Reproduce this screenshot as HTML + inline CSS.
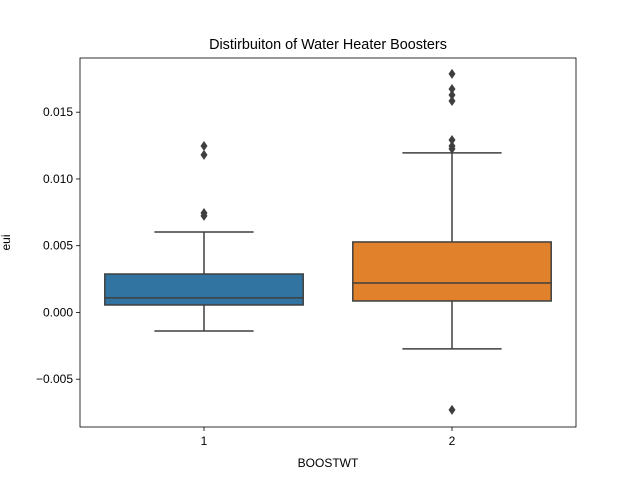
<!DOCTYPE html>
<html><head><meta charset="utf-8"><style>
body{margin:0;background:#fff;}
svg text{font-family:"Liberation Sans","DejaVu Sans",sans-serif;fill:#000;}
</style></head><body>
<svg id="chart" width="640" height="480"></svg>
<script>
const categories = ["1","2"];
const whiskerLow = [-0.00139, -0.00273];
const q1 = [0.00056, 0.00086];
const medians = [0.00109, 0.00221];
const q3 = [0.00288, 0.00528];
const whiskerHigh = [0.00603, 0.01195];
const outliers = [[0.01247,0.01180,0.00745,0.00723],[0.01787,0.01674,0.01629,0.01584,0.01292,0.01247,0.01225,-0.0073]];
const colors = ["#3274a1","#e1812c"];
const yTicks = [-0.005,0,0.005,0.010,0.015];
const yTickLabels = ["\u22120.005","0.000","0.005","0.010","0.015"];

const L=80,R=576,T=58,B=427,yMin=-0.00858,yMax=0.01906;
const ys=v=>B-(v-yMin)/(yMax-yMin)*(B-T);
const bw=(R-L)/categories.length;
const xc=i=>L+bw*(i+0.5);
const svg=document.getElementById('chart');
const NS="http://www.w3.org/2000/svg";
function mk(tag,attrs,parent){const e=document.createElementNS(NS,tag);for(const k in attrs)e.setAttribute(k,attrs[k]);(parent||svg).appendChild(e);return e;}
const g='#3f3f3f';
categories.forEach((c,i)=>{
  const grp=mk('g',{});
  
  
  const x=xc(i),hw=bw*0.4;
  mk('line',{x1:x,x2:x,y1:ys(q3[i]),y2:ys(whiskerHigh[i]),stroke:g,'stroke-width':1.5},grp);
  mk('line',{x1:x,x2:x,y1:ys(q1[i]),y2:ys(whiskerLow[i]),stroke:g,'stroke-width':1.5},grp);
  mk('line',{x1:x-hw/2,x2:x+hw/2,y1:ys(whiskerHigh[i]),y2:ys(whiskerHigh[i]),stroke:g,'stroke-width':1.5},grp);
  mk('line',{x1:x-hw/2,x2:x+hw/2,y1:ys(whiskerLow[i]),y2:ys(whiskerLow[i]),stroke:g,'stroke-width':1.5},grp);
  mk('rect',{x:x-hw,y:ys(q3[i]),width:hw*2,height:ys(q1[i])-ys(q3[i]),fill:colors[i],stroke:g,'stroke-width':1.5},grp);
  mk('line',{x1:x-hw,x2:x+hw,y1:ys(medians[i]),y2:ys(medians[i]),stroke:g,'stroke-width':1.5},grp);
  outliers[i].forEach(v=>{const y=ys(v);
    const d=mk('polygon',{points:`${x},${y-5} ${x+3.5},${y} ${x},${y+5} ${x-3.5},${y}`,fill:g},grp);
    
    });
  mk('line',{x1:x,x2:x,y1:B,y2:B+4,stroke:'#000','stroke-width':0.8});
  const t=mk('text',{x:x,y:B+18,'font-size':12,'text-anchor':'middle'});t.textContent=c;
  
  
});
yTicks.forEach((v,i)=>{const y=ys(v);
  mk('line',{x1:L-4,x2:L,y1:y,y2:y,stroke:'#000','stroke-width':0.8});
  const t=mk('text',{x:L-7,y:y+4,'font-size':12,'text-anchor':'end'});t.textContent=yTickLabels[i];
  
  
});
const fr=mk('rect',{x:L,y:T,width:R-L,height:B-T,fill:'none',stroke:'#000','stroke-width':0.8});


let t=mk('text',{x:(L+R)/2,y:T-9,'font-size':14.4,'text-anchor':'middle'});t.textContent='Distirbuiton of Water Heater Boosters';


t=mk('text',{x:(L+R)/2,y:467,'font-size':12,'text-anchor':'middle'});t.textContent='BOOSTWT';


t=mk('text',{x:0,y:0,'font-size':12,'text-anchor':'middle',transform:`translate(10,${(T+B)/2}) rotate(-90)`});t.textContent='eui';


</script>
</body></html>
